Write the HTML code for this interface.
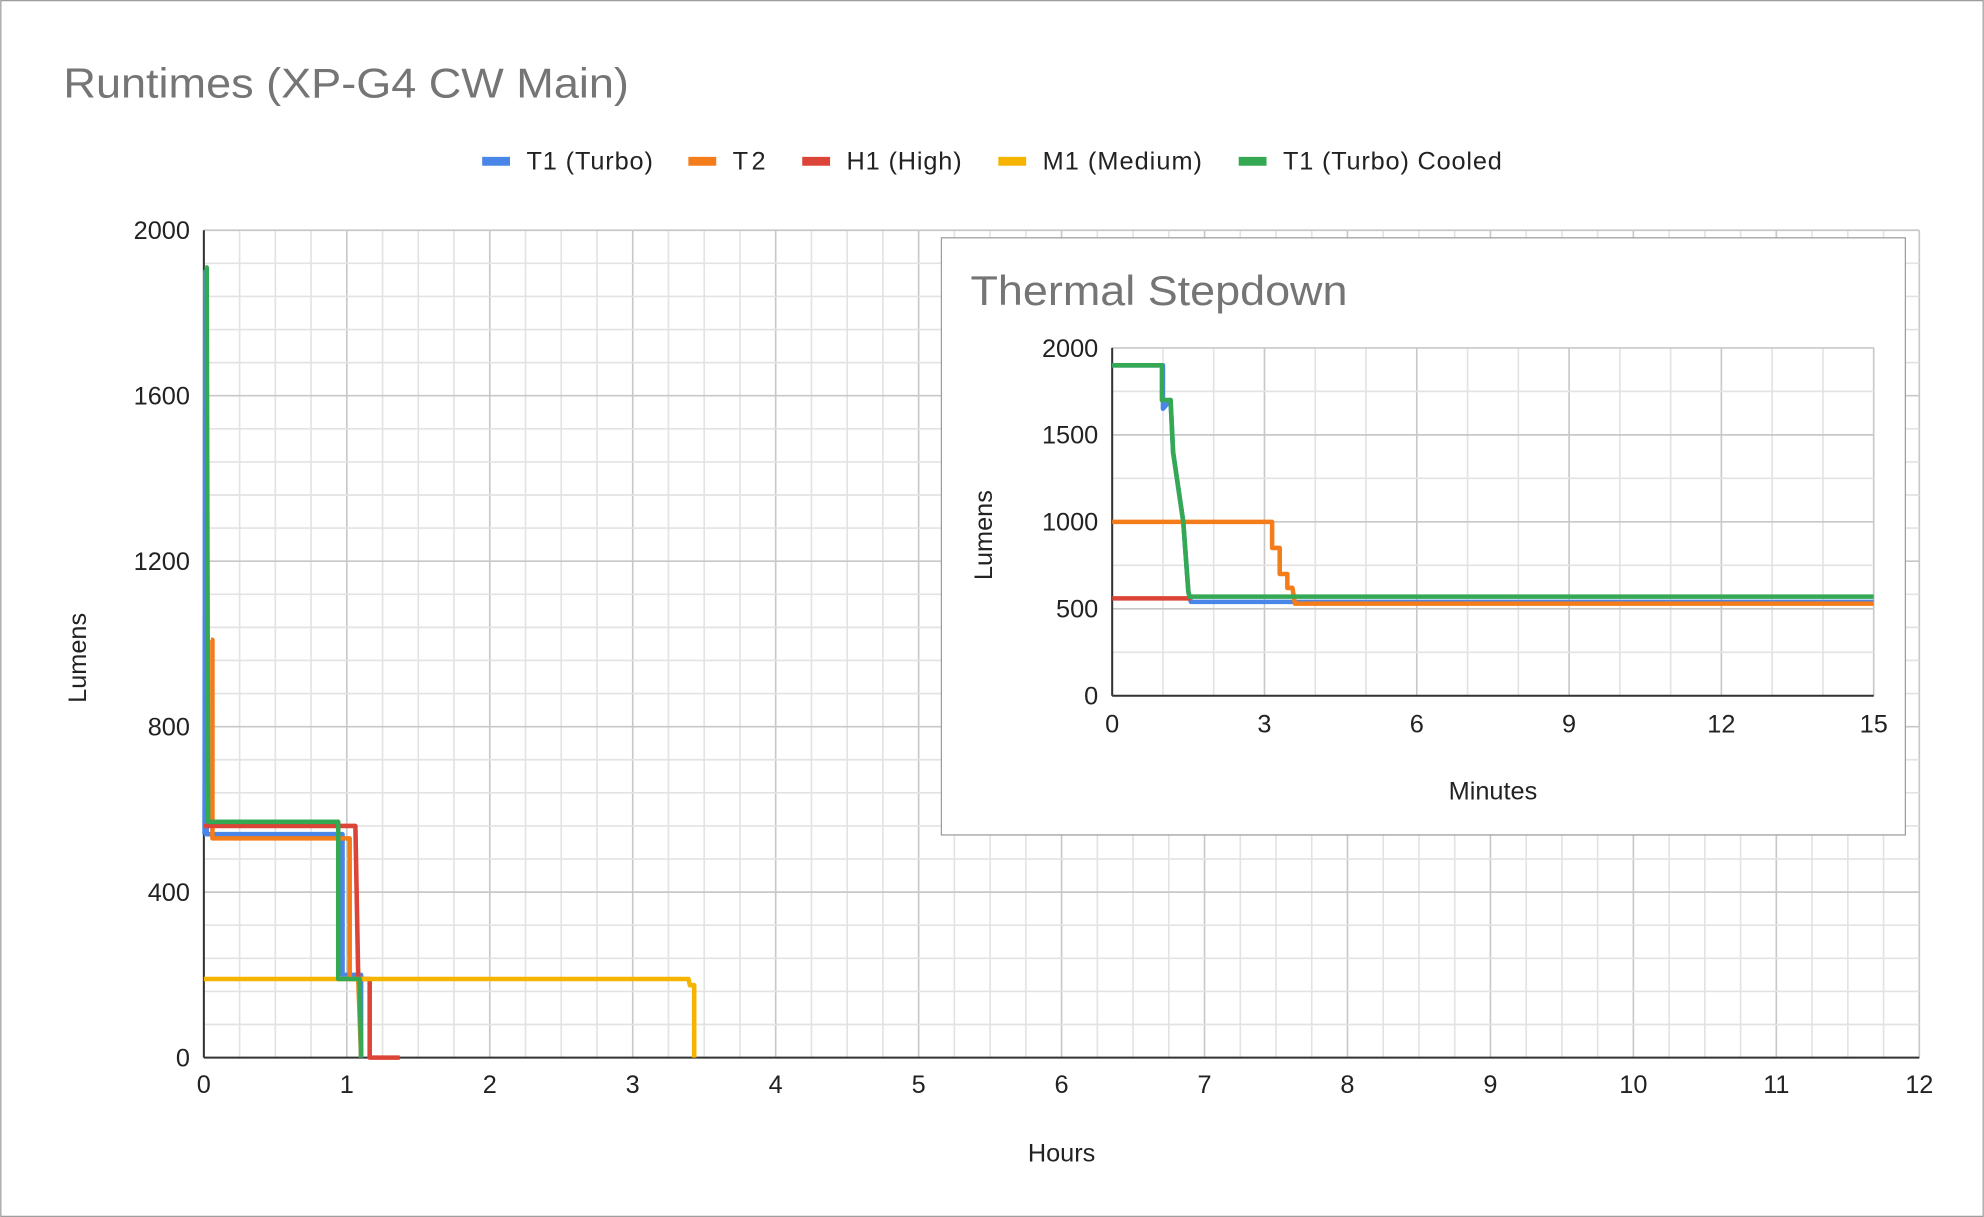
<!DOCTYPE html>
<html><head><meta charset="utf-8"><style>
html,body{margin:0;padding:0;background:#fff;}
svg{display:block;font-family:"Liberation Sans",Arial,sans-serif;}
</style></head><body>
<svg id="s" width="1984" height="1217" viewBox="0 0 1568 962" xmlns="http://www.w3.org/2000/svg">
<rect x="0.5" y="0.5" width="1567" height="961" fill="#fff" stroke="#9e9e9e"/>
<text x="50" y="77" font-size="33" fill="#757575" textLength="447" lengthAdjust="spacingAndGlyphs">Runtimes (XP-G4 CW Main)</text>
<g font-size="20" fill="#222">
<rect x="381" y="124" width="22" height="7" fill="#4a86e8"/><text x="416" y="134" textLength="100">T1 (Turbo)</text>
<rect x="544" y="124" width="22" height="7" fill="#f57c1a"/><text x="579" y="134" textLength="26">T2</text>
<rect x="634" y="124" width="22" height="7" fill="#db4437"/><text x="669" y="134" textLength="91">H1 (High)</text>
<rect x="789" y="124" width="22" height="7" fill="#f4b400"/><text x="824" y="134" textLength="126">M1 (Medium)</text>
<rect x="979" y="124" width="22" height="7" fill="#34a853"/><text x="1014" y="134" textLength="173">T1 (Turbo) Cooled</text>
</g>
<g id="mg"></g>
<text x="68" y="520" font-size="20" fill="#222" text-anchor="middle" transform="rotate(-90 68 520)">Lumens</text>
<text x="839" y="918" font-size="20" fill="#222" text-anchor="middle">Hours</text>
<g id="ms" fill="none" stroke-width="3.6" stroke-linejoin="round"></g>
<rect x="744" y="188" width="762" height="472" fill="#fff" stroke="#9e9e9e"/>
<text x="767" y="241" font-size="33" fill="#757575" textLength="298" lengthAdjust="spacingAndGlyphs">Thermal Stepdown</text>
<g id="ig"></g>
<text x="784" y="423" font-size="20" fill="#222" text-anchor="middle" transform="rotate(-90 784 423)">Lumens</text>
<text x="1180" y="632" font-size="20" fill="#222" text-anchor="middle">Minutes</text>
<g id="is" fill="none" stroke-width="3.6" stroke-linejoin="round"></g>
</svg>
<script>
const NS="http://www.w3.org/2000/svg";
function el(p,t,a,txt){const e=document.createElementNS(NS,t);for(const k in a)e.setAttribute(k,a[k]);if(txt!==undefined)e.textContent=txt;p.appendChild(e);return e;}
const mg=document.getElementById('mg');
const X=h=>161+h*113, Y=l=>836-l*0.327;
for(let i=0;i<=48;i++){const x=X(i/4);el(mg,'line',{x1:x,x2:x,y1:182,y2:836,stroke:i%4==0?'#c8c8c8':'#e3e3e3','stroke-width':1.3});}
for(let i=0;i<=25;i++){const y=Y(i*80);el(mg,'line',{x1:161,x2:1517,y1:y,y2:y,stroke:i%5==0?'#c8c8c8':'#e3e3e3','stroke-width':1.3});}
el(mg,'line',{x1:161,x2:1517,y1:836,y2:836,stroke:'#333','stroke-width':1.6});
el(mg,'line',{x1:161,x2:161,y1:182,y2:836,stroke:'#333','stroke-width':1.6});
for(let i=0;i<=12;i++)el(mg,'text',{x:X(i),y:864,'font-size':20,fill:'#222','text-anchor':'middle'},i);
for(let i=0;i<=5;i++)el(mg,'text',{x:150,y:Y(i*400)+7,'font-size':20,fill:'#222','text-anchor':'end'},i*400);
const ms=document.getElementById('ms');
function P(g,pts,c,fx,fy){el(g,'polyline',{points:pts.map(p=>fx(p[0])+','+fy(p[1])).join(' '),stroke:c});}
P(ms,[[0,540],[0.005,540],[0.01,1900],[0.02,540],[0.97,540],[0.97,200],[1.1,200],[1.1,0]],'#4a86e8',X,Y);
P(ms,[[0.05,1010],[0.06,1010],[0.06,530],[1.02,530],[1.02,190],[1.08,190],[1.1,0]],'#f57c1a',X,Y);
P(ms,[[0,560],[1.06,560],[1.06,560],[1.08,190],[1.16,190],[1.16,0],[1.37,0]],'#db4437',X,Y);
P(ms,[[0,190],[3.39,190],[3.4,175],[3.43,175],[3.43,0]],'#f4b400',X,Y);
P(ms,[[0.01,1910],[0.02,1910],[0.03,570],[0.94,570],[0.94,190],[1.09,190],[1.1,0]],'#34a853',X,Y);
const ig=document.getElementById('ig');
const IX=m=>879+m*40.13, IY=l=>550-l*0.1375;
for(let i=0;i<=15;i++){const x=IX(i);el(ig,'line',{x1:x,x2:x,y1:275,y2:550,stroke:i%3==0?'#c8c8c8':'#e3e3e3','stroke-width':1.3});}
for(let i=0;i<=8;i++){const y=IY(i*250);el(ig,'line',{x1:879,x2:1481,y1:y,y2:y,stroke:i%2==0?'#c8c8c8':'#e3e3e3','stroke-width':1.3});}
el(ig,'line',{x1:879,x2:1481,y1:550,y2:550,stroke:'#333','stroke-width':1.6});
el(ig,'line',{x1:879,x2:879,y1:275,y2:550,stroke:'#333','stroke-width':1.6});
for(let i=0;i<=5;i++)el(ig,'text',{x:IX(i*3),y:579,'font-size':20,fill:'#222','text-anchor':'middle'},i*3);
for(let i=0;i<=4;i++)el(ig,'text',{x:868,y:IY(i*500)+7,'font-size':20,fill:'#222','text-anchor':'end'},i*500);
const is=document.getElementById('is');
P(is,[[0,1900],[1.0,1900],[1.0,1650],[1.15,1700],[1.2,1400],[1.3,1200],[1.4,1000],[1.5,600],[1.55,540],[15,540]],'#4a86e8',IX,IY);
P(is,[[0,560],[1.55,560]],'#db4437',IX,IY);
P(is,[[0,1000],[3.15,1000],[3.15,850],[3.3,850],[3.3,700],[3.45,700],[3.45,620],[3.55,620],[3.6,530],[15,530]],'#f57c1a',IX,IY);
P(is,[[0,1900],[0.98,1900],[0.98,1700],[1.15,1700],[1.2,1400],[1.3,1200],[1.4,1000],[1.5,600],[1.52,570],[15,570]],'#34a853',IX,IY);
</script>
</body></html>
